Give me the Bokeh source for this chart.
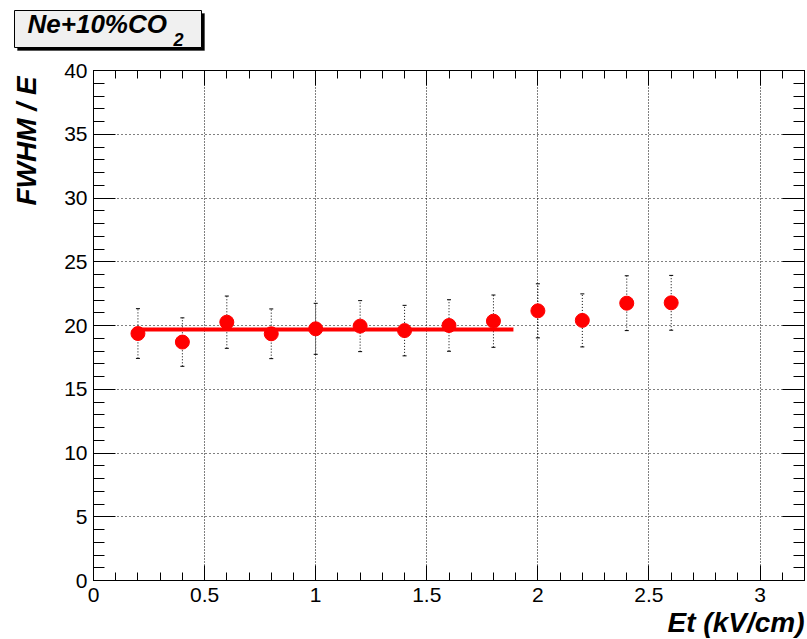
import math
from bokeh.plotting import figure
from bokeh.layouts import column, row
from bokeh.models import (LinearAxis, SingleIntervalTicker, Label, Range1d,
                          CustomJSTickFormatter, ColumnDataSource, BoxAnnotation)
from bokeh.embed import file_html
from bokeh.resources import INLINE

# ---- data ----
et = [0.2, 0.4, 0.6, 0.8, 1.0, 1.2, 1.4, 1.6, 1.8, 2.0, 2.2, 2.4, 2.6]
fwhm = [19.37, 18.70, 20.26, 19.35, 19.74, 19.95, 19.60, 20.00, 20.34, 21.15, 20.40, 21.75, 21.78]
fwhm_err = [1.95, 1.90, 2.05, 1.95, 2.00, 2.00, 1.98, 2.02, 2.05, 2.12, 2.08, 2.15, 2.15]
fit_et = [0.2, 1.89]
fit_value = [19.69, 19.69]
title_text = "Ne+10%CO"
title_sub = "2"
x_title = "Et (kV/cm)"
y_title = "FWHM / E"

FONT = "Liberation Sans"
HEAD_H, YF_W, MAIN_W, MAIN_H, XF_H = 56, 45, 762, 554, 29
TOTAL_W = YF_W + MAIN_W


def blank_fig(w, h):
    f = figure(width=w, height=h, output_backend="svg", toolbar_location=None,
               x_range=Range1d(0, 1), y_range=Range1d(0, 1),
               x_axis_location=None, y_axis_location=None, min_border=0)
    f.grid.visible = False
    f.outline_line_color = None
    f.background_fill_color = "white"
    f.border_fill_color = "white"
    return f


# ---------------- main plot ----------------
p = figure(width=MAIN_W, height=MAIN_H, output_backend="svg", toolbar_location=None,
           x_range=Range1d(0, 3.2), y_range=Range1d(0, 40),
           min_border_left=48, min_border_right=3, min_border_top=14, min_border_bottom=30)
p.background_fill_color = "white"
p.border_fill_color = "white"
p.outline_line_color = "black"
p.outline_line_width = 1

xt = SingleIntervalTicker(interval=0.5, num_minor_ticks=5)
yt = SingleIntervalTicker(interval=5, num_minor_ticks=5)
xfmt = CustomJSTickFormatter(code="return String(Math.round(tick*10)/10);")


def style_axis(ax, ticker, major, minor, show_labels):
    ax.ticker = ticker
    ax.axis_line_color = "black"
    ax.axis_line_width = 1
    ax.major_tick_line_color = "black"
    ax.minor_tick_line_color = "black"
    ax.major_tick_in = major
    ax.major_tick_out = 0
    ax.minor_tick_in = minor
    ax.minor_tick_out = 0
    ax.axis_label = None
    ax.major_label_text_font = FONT
    ax.major_label_text_font_size = "21px"
    ax.major_label_text_color = "black"
    if show_labels:
        ax.major_label_standoff = 6
    else:
        ax.formatter = CustomJSTickFormatter(code="return '';")
        ax.major_label_standoff = 0


style_axis(p.below[0], xt, 15, 8, True)
p.below[0].formatter = xfmt
p.below[0].major_label_standoff = 7
style_axis(p.left[0], yt, 22, 11, True)

top_ax = LinearAxis()
style_axis(top_ax, xt, 15, 8, False)
p.add_layout(top_ax, "above")
right_ax = LinearAxis()
style_axis(right_ax, yt, 22, 11, False)
p.add_layout(right_ax, "right")

p.xgrid.ticker = xt
p.ygrid.ticker = yt
p.xgrid.grid_line_color = "black"
p.ygrid.grid_line_color = "black"
p.xgrid.grid_line_dash = "1 2"
p.ygrid.grid_line_dash = "1 3"
p.xgrid.grid_line_width = 1
p.ygrid.grid_line_width = 1

src = ColumnDataSource(dict(
    x=et, y=fwhm,
    lo=[v - e for v, e in zip(fwhm, fwhm_err)],
    hi=[v + e for v, e in zip(fwhm, fwhm_err)],
))

# error bars (dotted)
p.segment(x0="x", y0="lo", x1="x", y1="hi", source=src,
          line_color="black", line_width=1, line_dash="1 2")
p.scatter(x="x", y="lo", source=src, marker="dash", size=4,
          line_color="black", line_width=1)
p.scatter(x="x", y="hi", source=src, marker="dash", size=4,
          line_color="black", line_width=1)

# fit line
p.line(fit_et, fit_value, line_color="red", line_width=4)

# points
p.scatter(x="x", y="y", source=src, marker="circle", size=14,
          fill_color="red", line_color="red")


def scr(**kw):
    return dict(left_units="screen", right_units="screen",
                top_units="screen", bottom_units="screen", **kw)


# ---------------- header with title box ----------------
head = blank_fig(TOTAL_W, HEAD_H)
head.add_layout(BoxAnnotation(**scr(left=17, right=204, top=HEAD_H - 13, bottom=HEAD_H - 50,
                                    fill_color="black", fill_alpha=1, line_color="black")))
head.add_layout(BoxAnnotation(**scr(left=14, right=201, top=HEAD_H - 10, bottom=HEAD_H - 47,
                                    fill_color="#f0f0f0", fill_alpha=1,
                                    line_color="black", line_width=1, line_alpha=1)))
head.add_layout(Label(x=27, y=HEAD_H - 23, x_units="screen", y_units="screen",
                      text=title_text, text_font=FONT, text_font_style="bold italic",
                      text_font_size="26px", text_color="black",
                      text_align="left", text_baseline="alphabetic"))
head.add_layout(Label(x=173, y=HEAD_H - 39, x_units="screen", y_units="screen",
                      text=title_sub, text_font=FONT, text_font_style="bold italic",
                      text_font_size="18px", text_color="black",
                      text_align="left", text_baseline="alphabetic"))

# ---------------- y title strip ----------------
yfig = blank_fig(YF_W, MAIN_H)
yfig.add_layout(Label(x=26, y=MAIN_H - (235 - HEAD_H), x_units="screen", y_units="screen",
                      text=y_title, text_font=FONT, text_font_style="bold italic",
                      text_font_size="28px", text_color="black", angle=math.pi / 2,
                      text_align="left", text_baseline="middle"))

# ---------------- x title strip ----------------
xfig = blank_fig(TOTAL_W, XF_H)
xfig.add_layout(Label(x=804, y=17, x_units="screen", y_units="screen",
                      text=x_title, text_font=FONT, text_font_style="bold italic",
                      text_font_size="28px", text_color="black",
                      text_align="right", text_baseline="alphabetic"))

layout = column(head, row(yfig, p, spacing=0), xfig, spacing=0)

open("out.html", "w").write(file_html(layout, INLINE))
